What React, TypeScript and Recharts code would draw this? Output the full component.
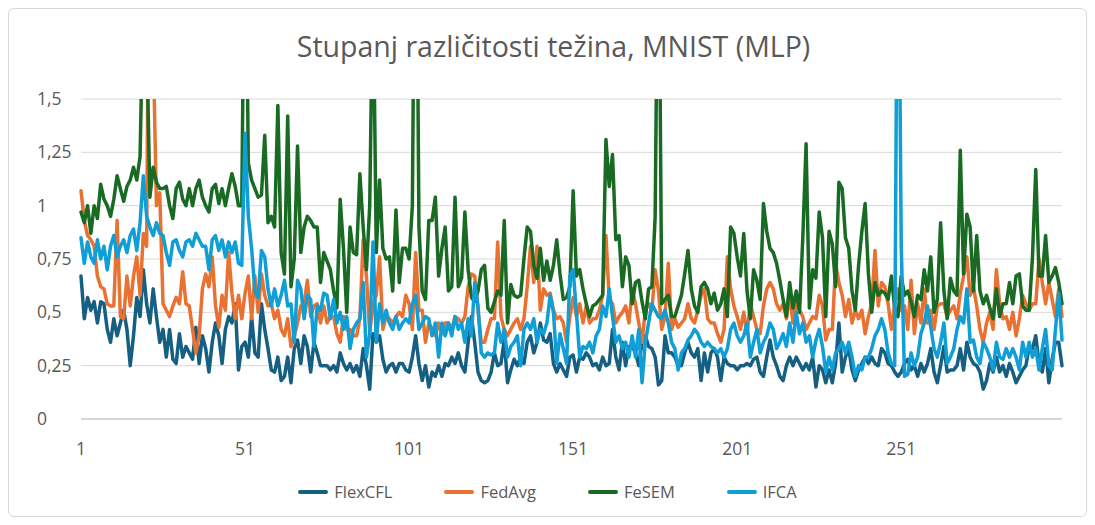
import { CartesianGrid, Legend, Line, LineChart, XAxis, YAxis } from "recharts"

// rounds 1..300
const rounds = Array.from({ length: 300 }, (_, i) => i + 1)

const flexCFL = [
  0.67, 0.47, 0.57, 0.51, 0.55, 0.45, 0.55, 0.54, 0.42, 0.36, 0.47, 0.39, 0.45, 0.51, 0.42, 0.25, 0.39, 0.57, 0.48, 0.7, 0.54, 0.45, 0.61, 0.48, 0.36,
  0.42, 0.29, 0.42, 0.28, 0.26, 0.4, 0.29, 0.34, 0.31, 0.28, 0.43, 0.26, 0.39, 0.33, 0.22, 0.36, 0.45, 0.39, 0.26, 0.42, 0.48, 0.45, 0.54, 0.23, 0.34,
  0.36, 0.29, 0.48, 0.31, 0.29, 0.54, 0.42, 0.33, 0.23, 0.22, 0.29, 0.18, 0.2, 0.29, 0.17, 0.33, 0.37, 0.26, 0.39, 0.34, 0.22, 0.36, 0.31, 0.25, 0.25,
  0.25, 0.23, 0.25, 0.22, 0.31, 0.26, 0.23, 0.26, 0.22, 0.25, 0.2, 0.33, 0.25, 0.14, 0.4, 0.36, 0.39, 0.28, 0.22, 0.25, 0.26, 0.22, 0.26, 0.26, 0.23,
  0.22, 0.29, 0.39, 0.26, 0.18, 0.25, 0.15, 0.22, 0.2, 0.25, 0.2, 0.26, 0.25, 0.29, 0.26, 0.31, 0.25, 0.22, 0.36, 0.48, 0.36, 0.22, 0.18, 0.17, 0.18,
  0.22, 0.31, 0.25, 0.26, 0.37, 0.17, 0.23, 0.28, 0.25, 0.29, 0.26, 0.36, 0.39, 0.31, 0.36, 0.45, 0.37, 0.36, 0.4, 0.26, 0.22, 0.26, 0.23, 0.2, 0.29,
  0.3, 0.22, 0.29, 0.28, 0.31, 0.29, 0.25, 0.26, 0.23, 0.29, 0.25, 0.26, 0.42, 0.29, 0.23, 0.36, 0.25, 0.34, 0.34, 0.31, 0.25, 0.36, 0.39, 0.34, 0.33,
  0.29, 0.16, 0.18, 0.39, 0.31, 0.31, 0.29, 0.25, 0.25, 0.31, 0.36, 0.31, 0.29, 0.33, 0.18, 0.31, 0.22, 0.31, 0.33, 0.29, 0.18, 0.29, 0.26, 0.25, 0.25,
  0.23, 0.25, 0.25, 0.26, 0.25, 0.28, 0.29, 0.22, 0.2, 0.29, 0.37, 0.29, 0.25, 0.2, 0.18, 0.25, 0.29, 0.25, 0.29, 0.26, 0.23, 0.26, 0.23, 0.29, 0.15,
  0.25, 0.23, 0.17, 0.23, 0.17, 0.26, 0.45, 0.22, 0.29, 0.33, 0.23, 0.18, 0.23, 0.26, 0.29, 0.26, 0.29, 0.26, 0.25, 0.33, 0.31, 0.26, 0.25, 0.22, 0.2,
  0.22, 0.26, 0.28, 0.23, 0.25, 0.2, 0.26, 0.22, 0.26, 0.33, 0.22, 0.17, 0.25, 0.34, 0.22, 0.23, 0.23, 0.25, 0.33, 0.23, 0.36, 0.29, 0.26, 0.25, 0.22,
  0.14, 0.18, 0.26, 0.22, 0.29, 0.22, 0.25, 0.2, 0.26, 0.22, 0.17, 0.2, 0.23, 0.25, 0.34, 0.33, 0.39, 0.26, 0.22, 0.33, 0.17, 0.28, 0.36, 0.36, 0.25,
]

const fedAvg = [
  1.07, 0.93, 0.86, 0.84, 0.81, 0.67, 0.62, 0.61, 0.54, 0.53, 0.53, 0.93, 0.48, 0.47, 0.67, 0.53, 0.67, 0.76, 0.58, 0.87, 0.81, 3.0, 1.75, 1.0, 1.06,
  0.54, 0.51, 0.48, 0.53, 0.57, 0.54, 0.69, 0.54, 0.53, 0.42, 0.31, 0.39, 0.61, 0.68, 0.62, 0.76, 0.53, 0.43, 0.58, 0.51, 0.78, 0.59, 0.47, 0.58, 0.47,
  0.59, 0.67, 0.47, 0.67, 0.5, 0.68, 0.58, 0.53, 0.54, 0.47, 0.51, 0.42, 0.39, 0.47, 0.34, 0.39, 0.45, 0.53, 0.54, 0.65, 0.48, 0.53, 0.54, 0.45, 0.53,
  0.45, 0.48, 0.48, 0.4, 0.36, 0.48, 0.42, 0.42, 0.39, 0.39, 0.47, 0.84, 0.67, 0.4, 0.54, 0.58, 0.76, 0.42, 0.48, 0.47, 0.45, 0.48, 0.5, 0.48, 0.58,
  0.54, 0.42, 0.78, 0.51, 0.51, 0.36, 0.45, 0.42, 0.39, 0.45, 0.4, 0.45, 0.45, 0.42, 0.48, 0.47, 0.45, 0.48, 0.62, 0.68, 0.67, 0.51, 0.36, 0.36, 0.42,
  0.47, 0.47, 0.83, 0.48, 0.42, 0.39, 0.42, 0.45, 0.47, 0.42, 0.47, 0.62, 0.81, 0.64, 0.81, 0.51, 0.61, 0.58, 0.59, 0.51, 0.47, 0.48, 0.45, 0.36, 0.48,
  0.57, 0.48, 0.54, 0.45, 0.53, 0.45, 0.47, 0.47, 0.51, 0.58, 0.86, 0.56, 0.54, 0.45, 0.48, 0.5, 0.53, 0.45, 0.61, 0.54, 0.45, 0.36, 0.51, 0.54, 0.51,
  0.7, 0.6, 0.42, 0.48, 0.73, 0.42, 0.47, 0.43, 0.45, 0.47, 0.54, 0.47, 0.45, 0.51, 0.58, 0.61, 0.47, 0.45, 0.45, 0.4, 0.36, 0.42, 0.76, 0.61, 0.53,
  0.48, 0.42, 0.5, 0.4, 0.54, 0.48, 0.42, 0.4, 0.53, 0.61, 0.64, 0.61, 0.54, 0.51, 0.54, 0.47, 0.58, 0.45, 0.54, 0.51, 0.48, 0.42, 0.45, 0.48, 0.47,
  0.58, 0.53, 0.37, 0.42, 0.42, 0.73, 0.64, 0.58, 0.48, 0.56, 0.45, 0.51, 0.47, 0.51, 0.4, 0.48, 0.54, 0.79, 0.53, 0.64, 0.62, 0.54, 0.42, 0.54, 0.61,
  0.51, 0.53, 0.42, 0.65, 0.4, 0.54, 0.45, 0.61, 0.45, 0.51, 0.42, 0.53, 0.54, 0.54, 0.48, 0.51, 0.53, 0.47, 0.59, 0.67, 0.76, 0.58, 0.62, 0.53, 0.42,
  0.36, 0.45, 0.5, 0.42, 0.7, 0.54, 0.47, 0.48, 0.42, 0.5, 0.39, 0.47, 0.58, 0.54, 0.51, 0.54, 0.54, 0.75, 0.64, 0.54, 0.64, 0.56, 0.48, 0.61, 0.48,
]

const feSEM = [
  0.97, 0.92, 1.0, 0.87, 1.0, 0.94, 1.1, 1.03, 1.0, 0.95, 1.03, 1.14, 1.08, 1.02, 1.09, 1.12, 1.18, 1.12, 1.23, 2.0, 1.8, 1.04, 1.18, 1.11, 1.08,
  1.08, 1.09, 1.0, 0.94, 1.08, 1.11, 1.03, 1.0, 1.08, 1.0, 1.08, 1.12, 1.04, 1.0, 0.97, 1.08, 1.1, 1.01, 1.08, 1.0, 1.08, 1.15, 1.09, 1.0, 1.0,
  2.6, 1.2, 1.12, 1.08, 1.04, 1.05, 1.33, 0.92, 0.95, 0.9, 1.47, 0.78, 0.68, 1.42, 0.62, 0.75, 1.28, 0.78, 0.9, 0.95, 0.93, 0.9, 0.9, 0.64, 0.78,
  0.74, 0.7, 0.6, 0.52, 1.03, 0.8, 0.5, 0.9, 0.78, 0.77, 1.15, 0.9, 0.7, 1.0, 2.1, 0.78, 1.12, 0.8, 0.75, 0.76, 0.6, 0.98, 0.64, 0.8, 0.8,
  0.75, 1.0, 3.0, 0.9, 0.6, 0.56, 0.93, 0.93, 1.04, 0.67, 0.8, 0.9, 0.6, 0.62, 1.04, 0.62, 0.66, 0.97, 0.7, 0.57, 0.55, 0.6, 0.7, 0.72, 0.52,
  0.5, 0.55, 0.6, 0.58, 0.93, 0.45, 0.63, 0.58, 0.57, 0.58, 0.75, 0.9, 0.88, 0.72, 0.66, 0.8, 0.65, 0.74, 0.65, 0.72, 0.84, 0.68, 0.56, 0.57, 0.62,
  1.07, 0.67, 0.7, 0.61, 0.54, 0.48, 0.53, 0.54, 0.56, 0.58, 1.31, 1.09, 1.24, 0.84, 0.86, 0.62, 0.76, 0.72, 0.54, 0.64, 0.65, 0.55, 0.47, 0.61, 0.62,
  0.95, 2.6, 0.54, 0.56, 0.58, 0.48, 0.48, 0.53, 0.58, 0.68, 0.79, 0.61, 0.53, 0.5, 0.62, 0.64, 0.61, 0.54, 0.59, 0.51, 0.54, 0.61, 0.48, 0.9, 0.87,
  0.76, 0.67, 0.87, 0.6, 0.47, 0.7, 0.65, 0.56, 1.01, 0.88, 0.8, 0.78, 0.73, 0.65, 0.56, 0.48, 0.64, 0.52, 0.6, 0.5, 0.85, 1.29, 0.52, 0.7, 0.66,
  0.97, 0.85, 0.48, 0.88, 0.82, 0.62, 1.11, 1.08, 0.85, 0.8, 0.6, 0.51, 0.72, 0.88, 1.01, 0.68, 0.5, 0.64, 0.58, 0.6, 0.59, 0.56, 0.67, 0.52, 0.48,
  0.67, 0.58, 0.6, 0.55, 0.48, 0.58, 0.56, 0.7, 0.6, 0.76, 0.5, 0.56, 0.92, 0.6, 0.47, 0.66, 0.6, 0.58, 1.26, 0.68, 0.96, 0.9, 0.6, 0.86, 0.6,
  0.54, 0.58, 0.52, 0.47, 0.61, 0.48, 0.54, 0.54, 0.64, 0.54, 0.67, 0.68, 0.53, 0.51, 0.51, 0.76, 1.17, 0.67, 0.67, 0.86, 0.64, 0.67, 0.71, 0.64, 0.54,
]

const ifca = [
  0.85, 0.73, 0.83, 0.76, 0.73, 0.84, 0.75, 0.81, 0.7, 0.81, 0.86, 0.76, 0.81, 0.84, 0.78, 0.86, 0.89, 0.79, 0.92, 1.14, 0.95, 0.9, 0.86, 0.92, 0.87,
  0.86, 0.78, 0.72, 0.83, 0.84, 0.79, 0.76, 0.83, 0.84, 0.81, 0.87, 0.84, 0.81, 0.81, 0.7, 0.84, 0.86, 0.79, 0.84, 0.76, 0.83, 0.78, 0.83, 0.73, 0.72,
  1.34, 0.95, 0.8, 0.6, 0.57, 0.79, 0.76, 0.61, 0.53, 0.61, 0.53, 0.58, 0.65, 0.53, 0.54, 0.36, 0.65, 0.61, 0.47, 0.58, 0.56, 0.34, 0.53, 0.51, 0.59,
  0.58, 0.47, 0.56, 0.45, 0.5, 0.42, 0.48, 0.33, 0.42, 0.45, 0.47, 0.64, 0.29, 0.4, 0.83, 0.36, 0.54, 0.45, 0.51, 0.45, 0.42, 0.48, 0.42, 0.45, 0.47,
  0.45, 0.54, 0.58, 0.42, 0.45, 0.48, 0.47, 0.39, 0.45, 0.29, 0.45, 0.39, 0.45, 0.39, 0.48, 0.42, 0.45, 0.36, 0.47, 0.39, 0.64, 0.53, 0.31, 0.29, 0.31,
  0.3, 0.31, 0.45, 0.36, 0.42, 0.29, 0.34, 0.36, 0.39, 0.25, 0.42, 0.45, 0.42, 0.47, 0.36, 0.42, 0.4, 0.45, 0.58, 0.5, 0.26, 0.4, 0.33, 0.26, 0.67,
  0.7, 0.5, 0.29, 0.34, 0.33, 0.36, 0.31, 0.39, 0.42, 0.53, 0.48, 0.61, 0.48, 0.36, 0.39, 0.33, 0.36, 0.29, 0.39, 0.29, 0.42, 0.17, 0.36, 0.45, 0.54,
  0.51, 0.48, 0.47, 0.51, 0.45, 0.36, 0.33, 0.23, 0.31, 0.33, 0.37, 0.39, 0.42, 0.4, 0.36, 0.34, 0.36, 0.34, 0.33, 0.31, 0.33, 0.29, 0.33, 0.42, 0.45,
  0.39, 0.36, 0.39, 0.45, 0.29, 0.36, 0.42, 0.31, 0.36, 0.39, 0.45, 0.42, 0.33, 0.36, 0.4, 0.34, 0.45, 0.36, 0.5, 0.4, 0.45, 0.36, 0.39, 0.29, 0.37,
  0.42, 0.34, 0.22, 0.29, 0.23, 0.31, 0.33, 0.36, 0.31, 0.36, 0.29, 0.2, 0.25, 0.23, 0.29, 0.29, 0.33, 0.39, 0.42, 0.47, 0.42, 0.31, 0.26, 0.25, 2.75,
  0.81, 0.2, 0.21, 0.31, 0.25, 0.29, 0.4, 0.45, 0.53, 0.43, 0.33, 0.29, 0.36, 0.45, 0.26, 0.29, 0.33, 0.42, 0.48, 0.45, 0.61, 0.36, 0.37, 0.29, 0.26,
  0.36, 0.33, 0.29, 0.23, 0.36, 0.29, 0.28, 0.33, 0.29, 0.33, 0.29, 0.23, 0.36, 0.29, 0.36, 0.29, 0.33, 0.23, 0.33, 0.42, 0.25, 0.23, 0.42, 0.59, 0.37,
]

const yTicks = [0, 0.25, 0.5, 0.75, 1, 1.25, 1.5]

const series = [
  { name: "FlexCFL", values: flexCFL, color: "#156082" },
  { name: "FedAvg", values: fedAvg, color: "#E97132" },
  { name: "FeSEM", values: feSEM, color: "#196B24" },
  { name: "IFCA", values: ifca, color: "#0F9ED5" },
]

const data = rounds.map((round, i) => {
  const row: Record<string, number> = { round }
  series.forEach((s) => {
    row[s.name] = s.values[i]
  })
  return row
})

const font = "'Open Sans', 'Liberation Sans', sans-serif"

function YTick({ y, payload }: any) {
  return (
    <text x={28} y={y} dy={6} fill="#595959" fontSize={17.5} fontFamily={font} textAnchor="start">
      {String(payload.value).replace(".", ",")}
    </text>
  )
}

function LegendContent() {
  return (
    <div style={{ display: "flex", justifyContent: "center", gap: 52, fontFamily: font, fontSize: 16.5, color: "#595959" }}>
      {series.map((s) => (
        <div key={s.name} style={{ display: "flex", alignItems: "center", gap: 6 }}>
          <div style={{ width: 30, height: 4, background: s.color, borderRadius: 2 }} />
          <span>{s.name}</span>
        </div>
      ))}
    </div>
  )
}

export default function App() {
  return (
    <div style={{ position: "relative", width: 1077, height: 507, border: "1px solid #d9d9d9", borderRadius: 6, background: "#fff" }}>
      <div
        style={{
          position: "absolute",
          top: 18,
          left: 6,
          width: 1077,
          textAlign: "center",
          fontFamily: font,
          fontSize: 28.5,
          color: "#595959",
        }}
      >
        Stupanj različitosti težina, MNIST (MLP)
      </div>
      <LineChart width={1077} height={507} data={data} margin={{ top: 90, right: 24, bottom: 0, left: 0 }}>
        <CartesianGrid vertical={false} stroke="#d9d9d9" />
        <XAxis
          dataKey="round"
          interval={49}
          tickLine={false}
          stroke="#bfbfbf"
          tick={{ fill: "#595959", fontSize: 17.5, fontFamily: font }}
          tickMargin={18}
          height={74}
        />
        <YAxis
          domain={[0, 1.5]}
          ticks={yTicks}
          allowDataOverflow
          axisLine={false}
          tickLine={false}
          width={72}
          tick={<YTick />}
        />
        <Legend
          verticalAlign="bottom"
          content={<LegendContent />}
          wrapperStyle={{ position: "absolute", top: 471, left: 0, width: 1077 }}
        />
        {series.map((s) => (
          <Line
            key={s.name}
            dataKey={s.name}
            stroke={s.color}
            strokeWidth={3.5}
            dot={false}
            isAnimationActive={false}
            strokeLinejoin="round"
            strokeLinecap="round"
          />
        ))}
      </LineChart>
    </div>
  )
}
